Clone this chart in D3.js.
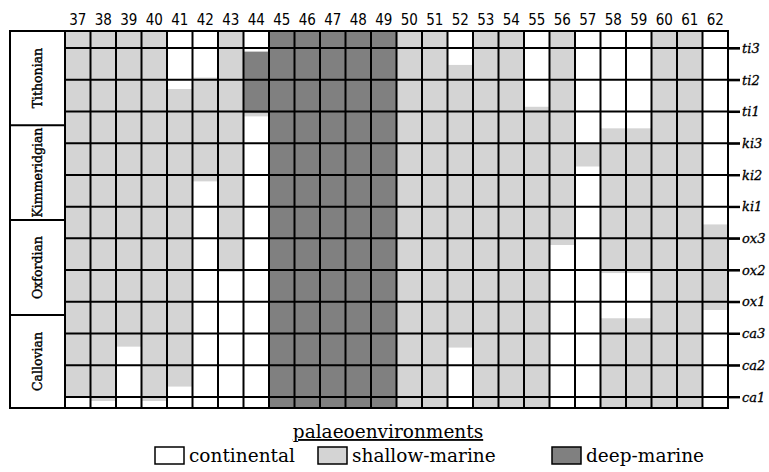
<!DOCTYPE html>
<html><head><meta charset="utf-8">
<script src="https://cdn.jsdelivr.net/npm/d3@7"></script>
<style>
body{margin:0;background:#fff}
svg{display:block}
</style>
</head><body>
<svg id="c" width="769" height="472"></svg>
<script>
// ---- data ----
const columnIds = [37,38,39,40,41,42,43,44,45,46,47,48,49,50,51,52,53,54,55,56,57,58,59,60,61,62];
const rowLabels = ["ti3","ti2","ti1","ki3","ki2","ki1","ox3","ox2","ox1","ca3","ca2","ca1"];
const levelExtent = [-0.54, 11.35];            // top and bottom of the chart, in row-level units
const stageNames = ["Tithonian","Kimmeridgian","Oxfordian","Callovian"];
const stageBreaks = [2.43, 5.42, 8.42];        // stage boundaries, in row-level units
const envKeys = ["C","S","D"];
const envNames = ["continental","shallow-marine","deep-marine"];
const envColors = ["#ffffff","#d4d4d4","#808080"];
// environments per column from top to bottom, and the levels where they change
const columnEnvs = [
  ["S","C"],["S","C"],["S","C"],["S","C"],["C","S","C"],["C","S","C"],["S","C"],["C","D","S","C"],
  ["D"],["D"],["D"],["D"],["D"],
  ["S"],["S"],["C","S","C"],["S"],["S"],["C","S"],["S","C"],["C","S","C"],
  ["C","S","C","S"],["C","S","C","S"],["S"],["S"],["C","S","C"]
];
const columnBreaks = [
  [11.0],[11.13],[9.42],[11.13],[1.29,10.68],[0.93,4.21],[7.06],[0.11,2.06,2.16],
  [],[],[],[],[],
  [],[],[0.53,9.45],[],[],[1.85],[6.21],[3.0,3.74],
  [2.53,7.10,8.52],[2.53,7.10,8.52],[],[],[5.56,8.26]
];

// ---- chart ----
const svg = d3.select("#c");
const gridLeft = 65, gridRight = 728, boxLeft = 10;
const x = d3.scaleBand().domain(columnIds).range([gridLeft, gridRight]).padding(0);
const y = d3.scaleLinear().domain(levelExtent).range([31, 408]);
const color = d3.scaleOrdinal().domain(envKeys).range(envColors);

// segments
const segs = [];
columnIds.forEach((id, i) => {
  const envs = columnEnvs[i], br = columnBreaks[i];
  envs.forEach((e, k) => {
    segs.push({id, env: e,
      from: k === 0 ? levelExtent[0] : br[k-1],
      to: k === envs.length - 1 ? levelExtent[1] : br[k]});
  });
});
svg.append("g").selectAll("rect").data(segs).join("rect")
  .attr("x", d => x(d.id)).attr("width", x.bandwidth())
  .attr("y", d => y(d.from)).attr("height", d => y(d.to) - y(d.from))
  .attr("fill", d => color(d.env));

const lines = svg.append("g").attr("stroke", "#000").attr("stroke-width", 2).attr("fill", "none");
// vertical grid lines
const vx = columnIds.map(c => x(c)).concat([gridRight]);
lines.selectAll("line.v").data(vx).join("line").attr("class", "v")
  .attr("x1", d => d).attr("x2", d => d)
  .attr("y1", y(levelExtent[0])).attr("y2", y(levelExtent[1]));
// horizontal row lines with right ticks
lines.selectAll("line.h").data(d3.range(rowLabels.length)).join("line").attr("class", "h")
  .attr("x1", gridLeft).attr("x2", gridRight + 12)
  .attr("y1", d => y(d)).attr("y2", d => y(d));
// outer top / bottom borders
[levelExtent[0], levelExtent[1]].forEach(v => {
  lines.append("line").attr("x1", boxLeft - 1).attr("x2", gridRight + 1)
    .attr("y1", y(v)).attr("y2", y(v));
});
// label box
lines.append("line").attr("x1", boxLeft).attr("x2", boxLeft)
  .attr("y1", y(levelExtent[0])).attr("y2", y(levelExtent[1]));
lines.selectAll("line.s").data(stageBreaks).join("line").attr("class", "s")
  .attr("x1", boxLeft).attr("x2", gridLeft)
  .attr("y1", d => y(d)).attr("y2", d => y(d));

// column labels (top axis)
const topAxis = svg.append("g").attr("transform", `translate(0,${y(levelExtent[0])})`)
  .call(d3.axisTop(x).tickSize(0).tickPadding(6));
topAxis.select(".domain").remove();
topAxis.selectAll("text").attr("font-family", "'DejaVu Sans Condensed','DejaVu Sans',sans-serif")
  .attr("font-size", 15).attr("fill", "#000");

// row labels (right axis)
const rightAxis = svg.append("g").attr("transform", `translate(${gridRight},0)`)
  .call(d3.axisRight(y).tickValues(d3.range(rowLabels.length)).tickFormat(i => rowLabels[i]).tickSize(12).tickPadding(2));
rightAxis.select(".domain").remove();
rightAxis.selectAll("line").attr("stroke", "#000").attr("stroke-width", 2);
rightAxis.selectAll("text").attr("font-family", "'DejaVu Serif',serif").attr("font-style", "italic")
  .attr("font-size", 13).attr("fill", "#000").attr("stroke", "#000").attr("stroke-width", 0.3);

// stage labels
const stageB = [levelExtent[0]].concat(stageBreaks, [levelExtent[1]]);
svg.append("g").selectAll("text").data(stageNames).join("text")
  .attr("transform", (d, i) => `translate(${(boxLeft + gridLeft) / 2},${(y(stageB[i]) + y(stageB[i+1])) / 2}) rotate(-90)`)
  .attr("text-anchor", "middle").attr("dominant-baseline", "central")
  .attr("font-family", "'DejaVu Serif',serif").attr("font-size", 12.5)
  .attr("stroke", "#000").attr("stroke-width", 0.4)
  .text(d => d);

// legend
svg.append("text").attr("x", 388).attr("y", 438).attr("text-anchor", "middle")
  .attr("font-family", "'DejaVu Serif',serif").attr("font-size", 18.5)
  .attr("text-decoration", "underline").text("palaeoenvironments");
const legX = [155, 318, 552];
const leg = svg.append("g").selectAll("g").data(envKeys).join("g")
  .attr("transform", (d, i) => `translate(${legX[i]},447)`);
leg.append("rect").attr("width", 29).attr("height", 17)
  .attr("fill", d => color(d)).attr("stroke", "#000").attr("stroke-width", 1.5);
leg.append("text").attr("x", 34).attr("y", 15)
  .attr("font-family", "'DejaVu Serif',serif").attr("font-size", 18.5)
  .text((d, i) => envNames[i]);
</script>
</body></html>
